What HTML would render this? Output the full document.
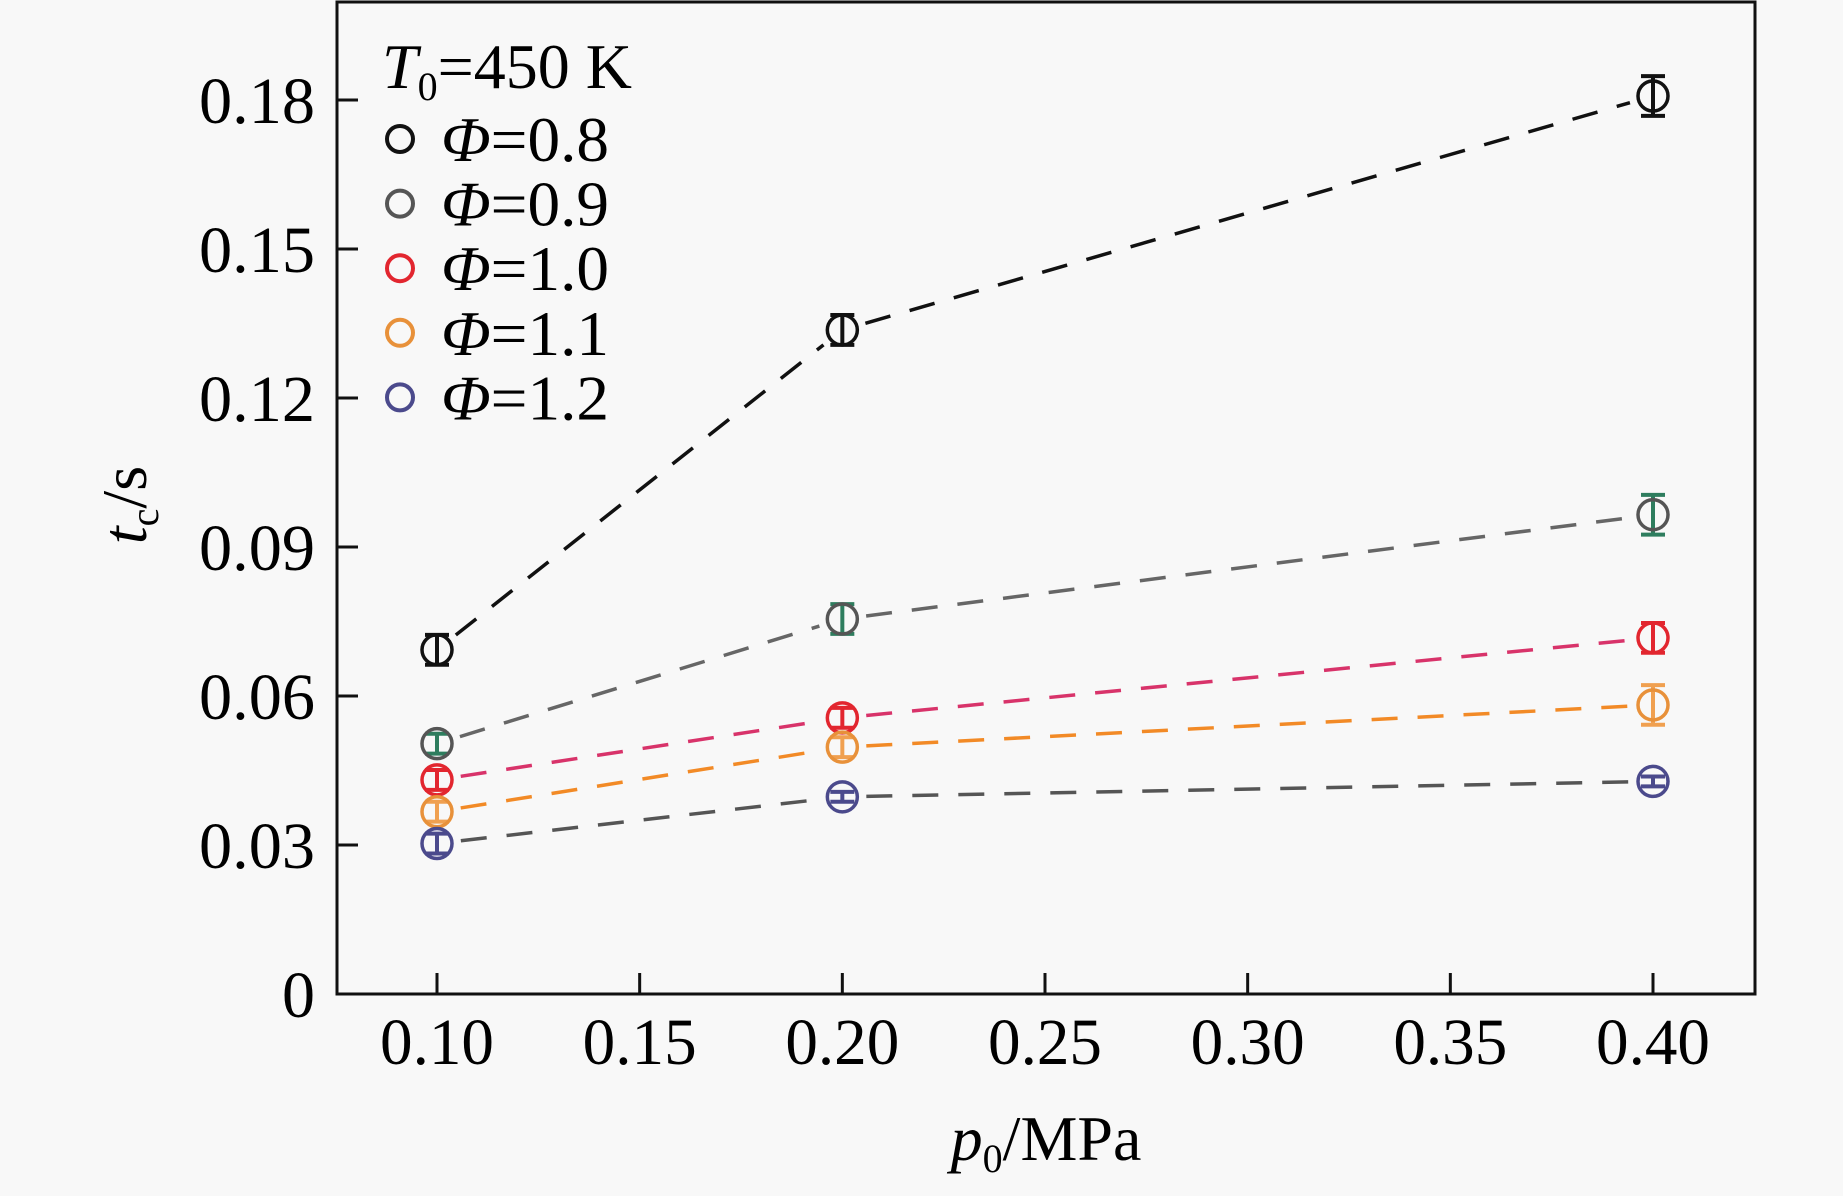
<!DOCTYPE html>
<html><head><meta charset="utf-8"><style>
html,body{margin:0;padding:0;background:#f8f8f8;}
svg{display:block;font-family:"Liberation Serif",serif;}
</style></head><body>
<svg id="chart" width="1843" height="1196" viewBox="0 0 1843 1196">
<rect width="1843" height="1196" fill="#f8f8f8"/>
<g id="plot"></g>
<g id="axes"></g>
<text x="382" y="88" font-size="64" font-style="italic">T<tspan font-size="40" dy="12" font-style="normal">0</tspan><tspan dy="-12" font-style="normal">=450 K</tspan></text>
<g id="legend"></g>
<text x="1046" y="1160" font-size="64" text-anchor="middle"><tspan font-style="italic">p</tspan><tspan font-size="40" dy="12">0</tspan><tspan dy="-12">/MPa</tspan></text>
<text transform="translate(146,505) rotate(-90)" font-size="64" text-anchor="middle"><tspan font-style="italic">t</tspan><tspan font-size="40" dy="12">c</tspan><tspan dy="-12">/s</tspan></text>
</svg>
<script>
const pressures = [0.10, 0.20, 0.40];
const seriesNames = ["Φ=0.8","Φ=0.9","Φ=1.0","Φ=1.1","Φ=1.2"];
const phi08 = [0.0693, 0.1337, 0.1808];
const phi09 = [0.0504, 0.0755, 0.0965];
const phi10 = [0.0431, 0.0556, 0.0717];
const phi11 = [0.0367, 0.0497, 0.0582];
const phi12 = [0.0303, 0.0397, 0.0428];
const err08 = [0.003, 0.003, 0.004];
const err09 = [0.002, 0.003, 0.004];
const err10 = [0.002, 0.002, 0.003];
const err11 = [0.002, 0.002, 0.004];
const err12 = [0.002, 0.001, 0.001];
const xTicks = [0.10,0.15,0.20,0.25,0.30,0.35,0.40];
const xTickLabels = ["0.10","0.15","0.20","0.25","0.30","0.35","0.40"];
const yTicks = [0,0.03,0.06,0.09,0.12,0.15,0.18];
const yTickLabels = ["0","0.03","0.06","0.09","0.12","0.15","0.18"];

const NS="http://www.w3.org/2000/svg";
const L=337,R=1755,T=2,B=994;
const xs=v=>437+(v-0.10)*(1653-437)/0.30;
const ys=v=>994-v*(994-100)/0.18;
function mk(tag,attrs,parent){const e=document.createElementNS(NS,tag);for(const k in attrs)e.setAttribute(k,attrs[k]);parent.appendChild(e);return e;}
const plot=document.getElementById('plot'),axes=document.getElementById('axes'),legend=document.getElementById('legend');
const values=[phi08,phi09,phi10,phi11,phi12];
const errs=[err08,err09,err10,err11,err12];
const lineCol=["#111","#666","#d8336a","#f28a26","#555"];
const markCol=["#111","#555","#e2262f","#e8913a","#4b4a8c"];
const errCol=["#111","#2e7d5e","#e2262f","#f0a050","#4b4a8c"];
values.forEach((vals,s)=>{
  for(let i=0;i<vals.length-1;i++){
    const x1=xs(pressures[i]),y1=ys(vals[i]),x2=xs(pressures[i+1]),y2=ys(vals[i+1]);
    const d=Math.hypot(x2-x1,y2-y1),ux=(x2-x1)/d,uy=(y2-y1)/d,g=24;
    const ln=mk('line',{x1:x1+ux*g,y1:y1+uy*g,x2:x2-ux*g,y2:y2-uy*g,stroke:lineCol[s],'stroke-width':3.5,'stroke-dasharray':'26 20'},plot);
    
    
  }
  vals.forEach((v,i)=>{
    const cx=xs(pressures[i]),cy=ys(v),e=errs[s][i];
    const g=mk('g',{},plot);
    
    
    const yt=ys(v+e),yb=ys(v-e);
    mk('line',{x1:cx,y1:yt,x2:cx,y2:yb,stroke:errCol[s],'stroke-width':4},g);
    mk('line',{x1:cx-12,y1:yt,x2:cx+12,y2:yt,stroke:errCol[s],'stroke-width':4},g);
    mk('line',{x1:cx-12,y1:yb,x2:cx+12,y2:yb,stroke:errCol[s],'stroke-width':4},g);
    mk('circle',{cx:cx,cy:cy,r:15,fill:'none',stroke:markCol[s],'stroke-width':3.5},g);
  });
});
const fr=mk('rect',{x:L,y:T,width:R-L,height:B-T,fill:'none',stroke:'#111','stroke-width':3},axes);


xTicks.forEach((v,i)=>{
  const x=xs(v);
  const t=mk('line',{x1:x,y1:B,x2:x,y2:B-21,stroke:'#111','stroke-width':3},axes);
  
  
  const tx=mk('text',{x:x,y:1064,'font-size':66,'text-anchor':'middle',textLength:114,lengthAdjust:'spacingAndGlyphs'},axes);
  tx.textContent=xTickLabels[i];
  
  
});
yTicks.forEach((v,i)=>{
  const y=ys(v);
  const t=mk('line',{x1:L,y1:y,x2:L+21,y2:y,stroke:'#111','stroke-width':3},axes);
  
  
  const lab=yTickLabels[i];
  const attrs={x:315,y:y+23,'font-size':66,'text-anchor':'end'};
  if(lab.length>1){attrs.textLength=116;attrs.lengthAdjust='spacingAndGlyphs';}
  const tx=mk('text',attrs,axes);
  tx.textContent=lab;
  
  
});
seriesNames.forEach((n,s)=>{
  const y=139+s*64.6;
  const g=mk('g',{},legend);
  
  
  mk('circle',{cx:400,cy:y,r:13,fill:'none',stroke:markCol[s],'stroke-width':4},g);
  const t=mk('text',{x:441,y:y+22,'font-size':64,textLength:168,lengthAdjust:'spacingAndGlyphs'},g);
  const a=mk('tspan',{'font-style':'italic'},t);a.textContent='Φ';
  const b=mk('tspan',{},t);b.textContent=n.slice(1);
});
</script>
</body></html>
